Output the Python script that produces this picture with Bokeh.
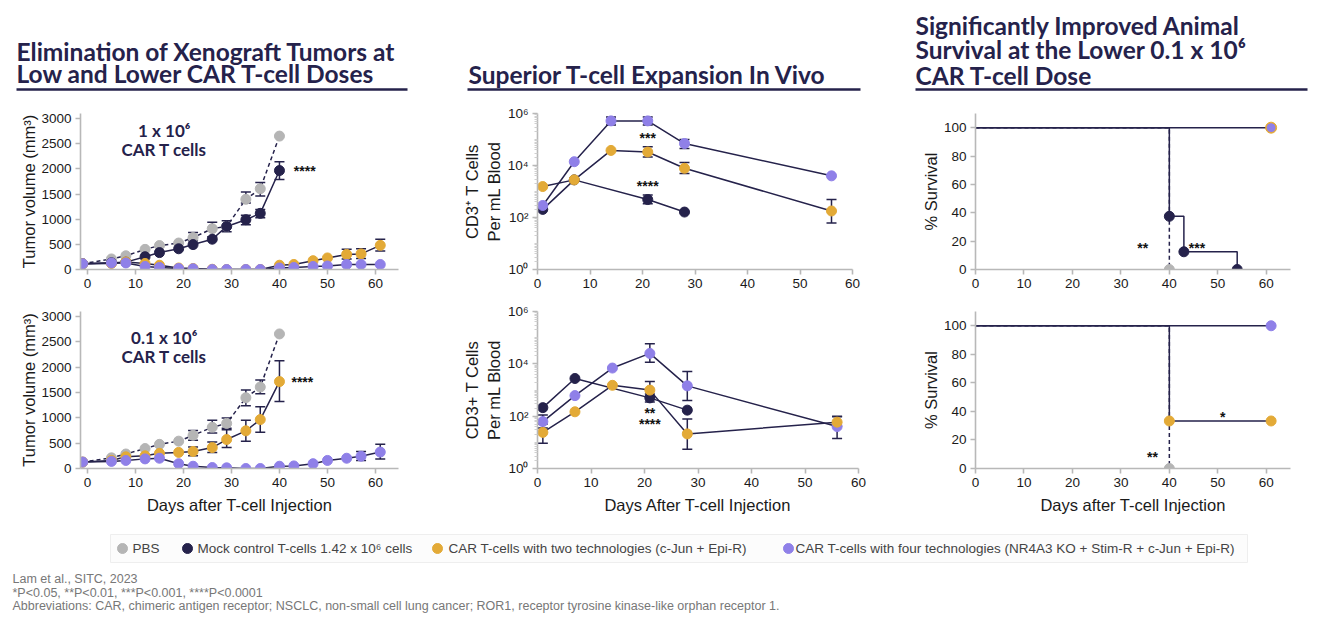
from bokeh.plotting import figure
from bokeh.layouts import column, row
from bokeh.models import Range1d, ColumnDataSource, Whisker, TeeHead, FixedTicker
from bokeh.core.properties import value
from bokeh.embed import file_html
from bokeh.resources import INLINE

NAVY = "#25224b"
GRAY = "#b5b5b5"
YELLOW = "#e3aa37"
PURPLE = "#8f80e8"
AX = "#b8b8b8"

# ---------------- Tumor volume data ----------------
tv_days = [-1, 5, 8, 12, 15, 19, 22, 26, 29, 33, 36, 40]
tv_days_long = [-1, 5, 8, 12, 15, 19, 22, 26, 29, 33, 36, 40, 43, 47, 50, 54, 57, 61]

# 1 x 10^6 dose
hi_pbs = [114, 210, 273, 400, 476, 526, 634, 812, 856, 1395, 1605, 2651]
hi_mock = [114, 133, 146, 254, 336, 412, 495, 602, 856, 989, 1116, 1966]
hi_two = [114, 120, 150, 120, 85, 30, 20, 5, 0, 0, 0, 85, 100, 175, 230, 300, 310, 480]
hi_four = [114, 130, 130, 60, 40, 20, 15, 0, 0, 0, 0, 30, 40, 60, 70, 100, 100, 100]
hi_pbs_err_days = [22, 26, 29, 33, 36]
hi_pbs_err_up = [735, 940, 970, 1540, 1730]
hi_pbs_err_lo = [570, 650, 750, 1320, 1460]
hi_mock_err_days = [33, 36, 40]
hi_mock_err_up = [1080, 1190, 2140]
hi_mock_err_lo = [890, 1030, 1790]
hi_two_err_days = [54, 57, 61]
hi_two_err_up = [400, 410, 600]
hi_two_err_lo = [210, 220, 370]

# 0.1 x 10^6 dose
lo_pbs = [127, 210, 286, 394, 477, 540, 655, 814, 890, 1398, 1608, 2657]
lo_two = [127, 160, 230, 250, 300, 318, 337, 413, 572, 744, 966, 1716]
lo_four = [127, 140, 159, 190, 203, 95, 45, 19, 13, 0, 0, 45, 51, 95, 159, 203, 242, 324]
lo_pbs_err_days = [22, 26, 29, 33, 36]
lo_pbs_err_up = [750, 953, 998, 1551, 1748]
lo_pbs_err_lo = [560, 699, 795, 1239, 1475]
lo_two_err_days = [22, 26, 29, 33, 36, 40]
lo_two_err_up = [426, 521, 763, 953, 1220, 2129]
lo_two_err_lo = [254, 318, 413, 540, 718, 1322]
lo_four_err_days = [57, 61]
lo_four_err_up = [337, 477]
lo_four_err_lo = [159, 190]

# ---------------- T-cell expansion data ----------------
ex_days = [1, 7, 14, 21, 28, 56]
ex_mock_days = [1, 7, 21, 28]
exh_four = [290, 14000, 520000, 520000, 70000, 4000]
exh_two = [1550, 2800, 38000, 33000, 7800, 178]
exh_mock = [205, 2800, 490, 162]
exh_four_err_days = [14, 21, 28]
exh_four_err_up = [740000, 740000, 100000]
exh_four_err_lo = [360000, 360000, 45000]
exh_two_err_days = [21, 28, 56]
exh_two_err_up = [53000, 13000, 490]
exh_two_err_lo = [21000, 4900, 62]
exh_mock_err_days = [21]
exh_mock_err_up = [740]
exh_mock_err_lo = [340]

exl_four = [62, 610, 6900, 25000, 1440, 40]
exl_two = [24, 147, 1510, 990, 21, 59]
exl_mock = [212, 2750, 500, 170]
exl_four_err_days = [1, 21, 28, 56]
exl_four_err_up = [110, 58000, 5100, 95]
exl_four_err_lo = [35, 11500, 400, 14]
exl_two_err_days = [1, 21, 28, 56]
exl_two_err_up = [50, 2100, 78, 100]
exl_two_err_lo = [9.3, 530, 5.5, 41]
exl_mock_err_days = [21]
exl_mock_err_up = [700]
exl_mock_err_lo = [345]

# ---------------- Survival data ----------------
st_pbs_t, st_pbs_s = [0, 40], [100, 0]
st_mock_t, st_mock_s = [0, 40, 43, 54], [100, 37.5, 12.5, 0]
st_car_t, st_car_s = [0, 61], [100, 100]
sb_pbs_t, sb_pbs_s = [0, 40], [100, 0]
sb_two_t, sb_two_s = [0, 40, 61], [100, 33.3, 33.3]
sb_four_t, sb_four_s = [0, 61], [100, 100]

legend_labels = ["PBS", "Mock control T-cells 1.42 x 10\u2076 cells",
                 "CAR T-cells with two technologies (c-Jun + Epi-R)",
                 "CAR T-cells with four technologies (NR4A3 KO + Stim-R + c-Jun + Epi-R)"]
legend_colors = [GRAY, NAVY, YELLOW, PURPLE]

TICKFONT = "Liberation Sans"


def base_fig(w, h, xr, yr, bl, br, bt, bb, ylog=False):
    kw = dict(width=w, height=h, x_range=Range1d(*xr), y_range=Range1d(*yr),
              output_backend="svg", toolbar_location=None,
              min_border_left=bl, min_border_right=br, min_border_top=bt, min_border_bottom=bb)
    if ylog:
        kw["y_axis_type"] = "log"
    p = figure(**kw)
    p.outline_line_color = None
    p.xgrid.visible = False
    p.ygrid.visible = False
    p.background_fill_color = None
    p.border_fill_color = None
    for ax in list(p.xaxis) + list(p.yaxis):
        ax.axis_line_color = AX
        ax.axis_line_width = 1.6
        ax.major_tick_line_color = AX
        ax.major_tick_line_width = 1.6
        ax.major_tick_in = 0
        ax.major_tick_out = 5
        ax.minor_tick_line_color = None
        ax.major_label_text_font = TICKFONT
        ax.major_label_text_font_size = "13.5px"
        ax.major_label_text_color = "#1a1a1a"
        ax.major_label_standoff = 4
        ax.axis_label_text_font = TICKFONT
        ax.axis_label_text_font_size = "16.5px"
        ax.axis_label_text_font_style = "normal"
        ax.axis_label_text_color = "#1a1a1a"
        ax.axis_label_standoff = 6
    p.xaxis.ticker = FixedTicker(ticks=[0, 10, 20, 30, 40, 50, 60])
    return p


def errbars(p, days, up, lo):
    src = ColumnDataSource(dict(x=days, up=up, lo=lo))
    w = Whisker(source=src, base="x", upper="up", lower="lo", line_color=NAVY, line_width=1.5,
                upper_head=TeeHead(size=10, line_color=NAVY, line_width=1.5),
                lower_head=TeeHead(size=10, line_color=NAVY, line_width=1.5))
    p.add_layout(w)


def stars(p, x, y, s, align="center"):
    p.text(x=[x], y=[y], text=[s], text_font=value(TICKFONT), text_font_style="bold",
           text_font_size="14px", text_color="#111111", text_align=align, text_baseline="middle")


def dose_label(p, x, y1, y2, l1, l2):
    p.text(x=[x, x], y=[y1, y2], text=[l1, l2], text_font=value("Lato"), text_font_style="bold",
           text_font_size="17px", text_color=NAVY, text_align="center", text_baseline="middle")


# ---------- tumor plots ----------
def tumor_fig(h, bt, bb, xlabel):
    p = base_fig(448, h, (-1.45, 64.8), (0, 3100), 80, 50, bt, bb)
    p.yaxis.ticker = FixedTicker(ticks=[0, 500, 1000, 1500, 2000, 2500, 3000])
    p.yaxis.axis_label = "Tumor volume (mm\u00b3)"
    p.yaxis.axis_label_standoff = 0
    if xlabel:
        p.xaxis.axis_label = xlabel
    return p


lt = tumor_fig(202, 9, 31, None)
lt.line(tv_days, hi_pbs, line_color=NAVY, line_width=1.5, line_dash="4 3")
lt.line(tv_days, hi_mock, line_color=NAVY, line_width=1.5)
lt.line(tv_days_long, hi_two, line_color=NAVY, line_width=1.5)
lt.line(tv_days_long, hi_four, line_color=NAVY, line_width=1.5)
errbars(lt, hi_pbs_err_days, hi_pbs_err_up, hi_pbs_err_lo)
errbars(lt, hi_mock_err_days, hi_mock_err_up, hi_mock_err_lo)
errbars(lt, hi_two_err_days, hi_two_err_up, hi_two_err_lo)
lt.scatter(tv_days, hi_pbs, size=10, fill_color=GRAY, line_color=GRAY)
lt.scatter(tv_days, hi_mock, size=10, fill_color=NAVY, line_color=NAVY)
lt.scatter(tv_days_long, hi_two, size=10, fill_color=YELLOW, line_color=YELLOW)
lt.scatter(tv_days_long, hi_four, size=10, fill_color=PURPLE, line_color=PURPLE)
stars(lt, 43, 1966, "****", "left")
dose_label(lt, 16, 2760, 2390, "1 x 10\u2076", "CAR T cells")

lb = tumor_fig(220, 8, 50, "Days after T-cell Injection")
lb.line(tv_days, lo_pbs, line_color=NAVY, line_width=1.5, line_dash="4 3")
lb.line(tv_days, lo_two, line_color=NAVY, line_width=1.5)
lb.line(tv_days_long, lo_four, line_color=NAVY, line_width=1.5)
errbars(lb, lo_pbs_err_days, lo_pbs_err_up, lo_pbs_err_lo)
errbars(lb, lo_two_err_days, lo_two_err_up, lo_two_err_lo)
errbars(lb, lo_four_err_days, lo_four_err_up, lo_four_err_lo)
lb.scatter(tv_days, lo_pbs, size=10, fill_color=GRAY, line_color=GRAY)
lb.scatter(tv_days, lo_two, size=10, fill_color=YELLOW, line_color=YELLOW)
lb.scatter(tv_days_long, lo_four, size=10, fill_color=PURPLE, line_color=PURPLE)
stars(lb, 42.5, 1716, "****", "left")
dose_label(lb, 16, 2580, 2210, "0.1 x 10\u2076", "CAR T cells")

# ---------- expansion plots ----------
major = [1, 100, 10000, 1000000]
minor = [k * 10 ** d for d in range(6) for k in range(1, 10) if not (k == 1 and d % 2 == 0)]
overrides = {1: "10\u2070", 100: "10\u00b2", 10000: "10\u2074", 1000000: "10\u2076"}


def exp_fig(h, w, bt, bb, br, ylabel, xlabel):
    p = base_fig(w, h, (0, 60), (1, 1e6), 89, br, bt, bb, ylog=True)
    p.yaxis.ticker = FixedTicker(ticks=major, minor_ticks=minor)
    p.yaxis.major_label_overrides = overrides
    p.yaxis.minor_tick_line_color = "#cfcfcf"
    p.yaxis.minor_tick_line_width = 1
    p.yaxis.minor_tick_in = 0
    p.yaxis.minor_tick_out = 3
    p.yaxis.axis_label = ylabel
    p.yaxis.axis_label_standoff = 2
    if xlabel:
        p.xaxis.axis_label = xlabel
    return p


mt = exp_fig(202, 440, 14, 30, 36, "CD3\u207a T Cells\nPer mL Blood", None)
for d, v in ((ex_days, exh_four), (ex_days, exh_two), (ex_mock_days, exh_mock)):
    mt.line(d, v, line_color=NAVY, line_width=1.5)
errbars(mt, exh_four_err_days, exh_four_err_up, exh_four_err_lo)
errbars(mt, exh_two_err_days, exh_two_err_up, exh_two_err_lo)
errbars(mt, exh_mock_err_days, exh_mock_err_up, exh_mock_err_lo)
mt.scatter(ex_mock_days, exh_mock, size=10, fill_color=NAVY, line_color=NAVY)
mt.scatter(ex_days, exh_two, size=10, fill_color=YELLOW, line_color=YELLOW)
mt.scatter(ex_days, exh_four, size=10, fill_color=PURPLE, line_color=PURPLE)
stars(mt, 21, 10 ** 5.05, "***")
stars(mt, 21, 10 ** 3.22, "****")

mb = exp_fig(220, 440, 8, 50, 30, "CD3+ T Cells\nPer mL Blood", "Days After T-cell Injection")
for d, v in ((ex_days, exl_four), (ex_days, exl_two), (ex_mock_days, exl_mock)):
    mb.line(d, v, line_color=NAVY, line_width=1.5)
errbars(mb, exl_four_err_days, exl_four_err_up, exl_four_err_lo)
errbars(mb, exl_two_err_days, exl_two_err_up, exl_two_err_lo)
errbars(mb, exl_mock_err_days, exl_mock_err_up, exl_mock_err_lo)
mb.scatter(ex_mock_days, exl_mock, size=10, fill_color=NAVY, line_color=NAVY)
mb.scatter(ex_days, exl_four, size=10, fill_color=PURPLE, line_color=PURPLE)
mb.scatter(ex_days, exl_two, size=10, fill_color=YELLOW, line_color=YELLOW)
stars(mb, 21, 10 ** 2.13, "**")
stars(mb, 21, 10 ** 1.70, "****")

# ---------- survival plots ----------
def surv_fig(h, bt, bb, xlabel):
    p = base_fig(439, h, (0, 65), (0, 110), 87, 37, bt, bb)
    p.yaxis.ticker = FixedTicker(ticks=[0, 20, 40, 60, 80, 100])
    p.yaxis.axis_label = "% Survival"
    p.yaxis.axis_label_standoff = 1
    if xlabel:
        p.xaxis.axis_label = xlabel
    return p


rt = surv_fig(202, 15, 31, None)
rt.step(st_pbs_t, st_pbs_s, mode="after", line_color=NAVY, line_width=1.5, line_dash="4 3")
rt.step(st_car_t, st_car_s, mode="after", line_color=NAVY, line_width=1.5)
rt.step(st_mock_t, st_mock_s, mode="after", line_color=NAVY, line_width=1.5)
rt.scatter(st_pbs_t[1:], st_pbs_s[1:], size=10, fill_color=GRAY, line_color=GRAY)
rt.scatter(st_mock_t[1:], st_mock_s[1:], size=10, fill_color=NAVY, line_color=NAVY)
rt.scatter(st_car_t[1:], st_car_s[1:], size=11, fill_color=YELLOW, line_color=YELLOW)
rt.scatter(st_car_t[1:], st_car_s[1:], size=8, fill_color=PURPLE, line_color=PURPLE)
stars(rt, 34.5, 15.5, "**")
stars(rt, 44, 15.5, "***", "left")

rb = surv_fig(220, 11, 52, "Days after T-cell Injection")
rb.step(sb_pbs_t, sb_pbs_s, mode="after", line_color=NAVY, line_width=1.5, line_dash="4 3")
rb.step(sb_four_t, sb_four_s, mode="after", line_color=NAVY, line_width=1.5)
rb.step(sb_two_t, sb_two_s, mode="after", line_color=NAVY, line_width=1.5)
rb.scatter(sb_pbs_t[1:], sb_pbs_s[1:], size=10, fill_color=GRAY, line_color=GRAY)
rb.scatter(sb_two_t[1:], sb_two_s[1:], size=10, fill_color=YELLOW, line_color=YELLOW)
rb.scatter(sb_four_t[1:], sb_four_s[1:], size=10, fill_color=PURPLE, line_color=PURPLE)
stars(rb, 51, 36, "*")
stars(rb, 36.5, 8, "**")


# ---------- header ----------
def blank(w, h):
    p = figure(width=w, height=h, x_range=Range1d(0, w), y_range=Range1d(h, 0),
               output_backend="svg", toolbar_location=None, min_border=0)
    p.axis.visible = False
    p.xgrid.visible = False
    p.ygrid.visible = False
    p.outline_line_color = None
    p.background_fill_color = None
    p.border_fill_color = None
    return p


hdr = blank(1327, 98)
hdr.text(x=[16, 16, 468, 915, 915, 915], y=[51, 73, 73.7, 24.5, 49.3, 75],
         text=["Elimination of Xenograft Tumors at", "Low and Lower CAR T-cell Doses",
               "Superior T-cell Expansion In Vivo", "Significantly Improved Animal",
               "Survival at the Lower 0.1 x 10\u2076", "CAR T-cell Dose"],
         text_font=value("Lato"), text_font_style="bold", text_font_size="24.5px",
         text_color=NAVY, text_baseline="middle", text_align="left")
hdr.segment(x0=[16, 467, 915], y0=[89, 89, 89], x1=[407, 860, 1307], y1=[89, 89, 89],
            line_color=NAVY, line_width=2.5)

# ---------- footer ----------
ftr = blank(1327, 100)
ftr.quad(left=[110], right=[1247], top=[14], bottom=[42], fill_color="#fcfcfc",
         line_color="#eeeeee", line_width=1)
leg_dot_x = [122, 187, 437, 788]
leg_text_x = [132, 197, 448, 795]
ftr.scatter(leg_dot_x, [28] * 4, size=10, fill_color=legend_colors, line_color=legend_colors)
ftr.text(x=leg_text_x, y=[28] * 4, text=legend_labels, text_font=value(TICKFONT),
         text_font_size="13.5px", text_color="#444444", text_baseline="middle", text_align="left")
ftr.text(x=[12, 12, 12], y=[58, 72, 85],
         text=["Lam et al., SITC, 2023",
               "*P<0.05, **P<0.01, ***P<0.001, ****P<0.0001",
               "Abbreviations: CAR, chimeric antigen receptor; NSCLC, non-small cell lung cancer; ROR1, receptor tyrosine kinase-like orphan receptor 1."],
         text_font=value(TICKFONT), text_font_size="12.5px", text_color="#777777",
         text_baseline="middle", text_align="left")

layout = column(hdr, row(lt, mt, rt), row(lb, mb, rb), ftr)
open("out.html", "w").write(file_html(layout, INLINE))
